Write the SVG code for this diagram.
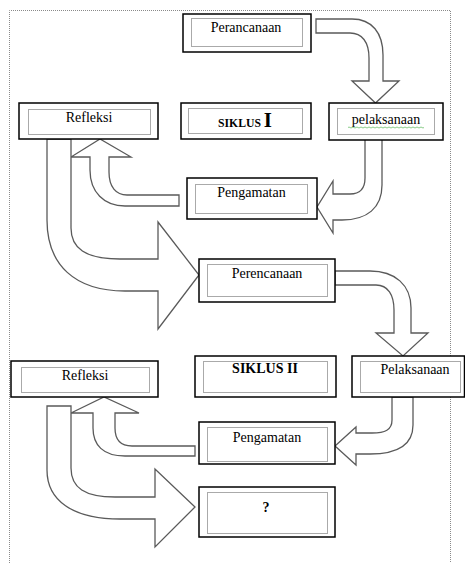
<svg xmlns="http://www.w3.org/2000/svg" width="465" height="563" viewBox="0 0 465 563">
<style>
.frame{fill:none;stroke:#8a8a8a;stroke-width:1;stroke-dasharray:1 1}
.box{fill:#fff;stroke:#000;stroke-width:1.5}
.inner{fill:none;stroke:#555;stroke-width:1;stroke-dasharray:1 1}
.arr{fill:#fff;stroke:#5a5a5a;stroke-width:1.3;stroke-linejoin:miter}
.t{font-family:"Liberation Serif","Times New Roman",serif;font-size:14px;fill:#000;text-anchor:middle}
.b{font-weight:bold}
</style>
<rect width="465" height="563" fill="#fff"/>
<path class="frame" d="M9.5,563 V10.5 H450.5 V563"/>
<g id="connectors">
<path class="arr" d="M316,19 H352 C372,19 383,33 383,55 V81 H399 L375.5,103 L352,81 H369 V58 C369,42 362,33 350,33 H316 Z"/>
<path class="arr" d="M365,139 H382 V185 C382,208 367,220 342,220 H333 V233 L317,207 L333,181 V194 H350 C360,194 365,188 365,178 V139 Z"/>
<path class="arr" d="M179,195 V206 H125 C104,206 90,192 90,170 V157 H71 L100,139 L131,157 H109 V172 C109,187 116,195 127,195 Z"/>
<path class="arr" d="M47,139 H71 V228 C71,248 85,259 120,259 H158 V222 L199,275 L158,329 V291 H125 C75,291 47,265 47,220 Z"/>
<path class="arr" d="M335,271 H370 C395,271 411,285 411,308 V333 H428 L403,356 L376,333 H394 V310 C394,295 388,285 376,285 H335 Z"/>
<path class="arr" d="M392,397 H413 V425 C413,443 400,454 370,454 H356 V465 L335,446 L356,427 V433 H372 C385,433 392,430 392,420 Z"/>
<path class="arr" d="M195,446 V456 H125 C103,456 93,445 93,428 V413 H71 L104,397 L139,413 H115 V428 C115,440 120,446 132,446 Z"/>
<path class="arr" d="M47,406 H71 V468 C71,488 85,497 115,497 H155 V469 L195,507 L155,547 V519 H120 C72,519 47,500 47,470 Z"/>
</g>
<g id="perancanaan">
<rect class="box" x="183" y="14" width="128" height="38"/>
<rect class="inner" x="191.5" y="18.5" width="111" height="28"/>
<text class="t" x="246" y="32">Perancanaan</text>
</g>
<g id="refleksi1">
<rect class="box" x="19" y="103" width="139" height="36"/>
<rect class="inner" x="28.5" y="109.5" width="122" height="25"/>
<text class="t" x="89" y="122">Refleksi</text>
</g>
<g id="siklus1">
<rect class="box" x="181" y="103" width="130" height="36"/>
<rect class="inner" x="188.5" y="108.5" width="114" height="25"/>
<text class="t b" x="245" y="127"><tspan font-size="11.7px">SIKLUS </tspan><tspan font-size="21px">I</tspan></text>
</g>
<g id="pelaksanaan1">
<rect class="box" x="329" y="103" width="114" height="37"/>
<rect class="inner" x="337.5" y="108.5" width="97" height="26"/>
<text class="t" x="386" y="124">pelaksanaan</text>
<path d="M348,127.5 q1,-1 2,0 t2,0 t2,0 t2,0 t2,0 t2,0 t2,0 t2,0 t2,0 t2,0 t2,0 t2,0 t2,0 t2,0 t2,0 t2,0 t2,0 t2,0 t2,0 t2,0 t2,0 t2,0 t2,0 t2,0 t2,0 t2,0 t2,0 t2,0 t2,0 t2,0 t2,0 t2,0 t2,0 t2,0 t2,0 t2,0 t2,0 t2,0" fill="none" stroke="#6cbf6c" stroke-width="0.8"/>
</g>
<g id="pengamatan1">
<rect class="box" x="187" y="178" width="130" height="41"/>
<rect class="inner" x="195.5" y="184.5" width="112" height="29"/>
<text class="t" x="251.5" y="197">Pengamatan</text>
</g>
<g id="perencanaan2">
<rect class="box" x="199" y="259" width="136" height="43"/>
<rect class="inner" x="207.5" y="264.5" width="120" height="32"/>
<text class="t" x="267" y="278">Perencanaan</text>
</g>
<g id="refleksi2">
<rect class="box" x="11" y="361" width="147" height="36"/>
<rect class="inner" x="21.5" y="367.5" width="128" height="25"/>
<text class="t" x="85" y="380">Refleksi</text>
</g>
<g id="siklus2">
<rect class="box" x="195" y="356" width="141" height="41"/>
<rect class="inner" x="203.5" y="361.5" width="124" height="31"/>
<text class="t b" x="265" y="373" font-size="13.5px">SIKLUS II</text>
</g>
<g id="pelaksanaan2">
<rect class="box" x="352" y="356" width="112.5" height="41"/>
<rect class="inner" x="360.5" y="361.5" width="100" height="31"/>
<text class="t" x="415" y="374">Pelaksanaan</text>
</g>
<g id="pengamatan2">
<rect class="box" x="199" y="422" width="136" height="42"/>
<rect class="inner" x="207.5" y="427.5" width="120" height="34"/>
<text class="t" x="267" y="442">Pengamatan</text>
</g>
<g id="tanya">
<rect class="box" x="199" y="487" width="136" height="50"/>
<rect class="inner" x="207.5" y="492.5" width="120" height="41"/>
<text class="t b" x="266" y="512" font-size="15px">?</text>
</g>
</svg>
